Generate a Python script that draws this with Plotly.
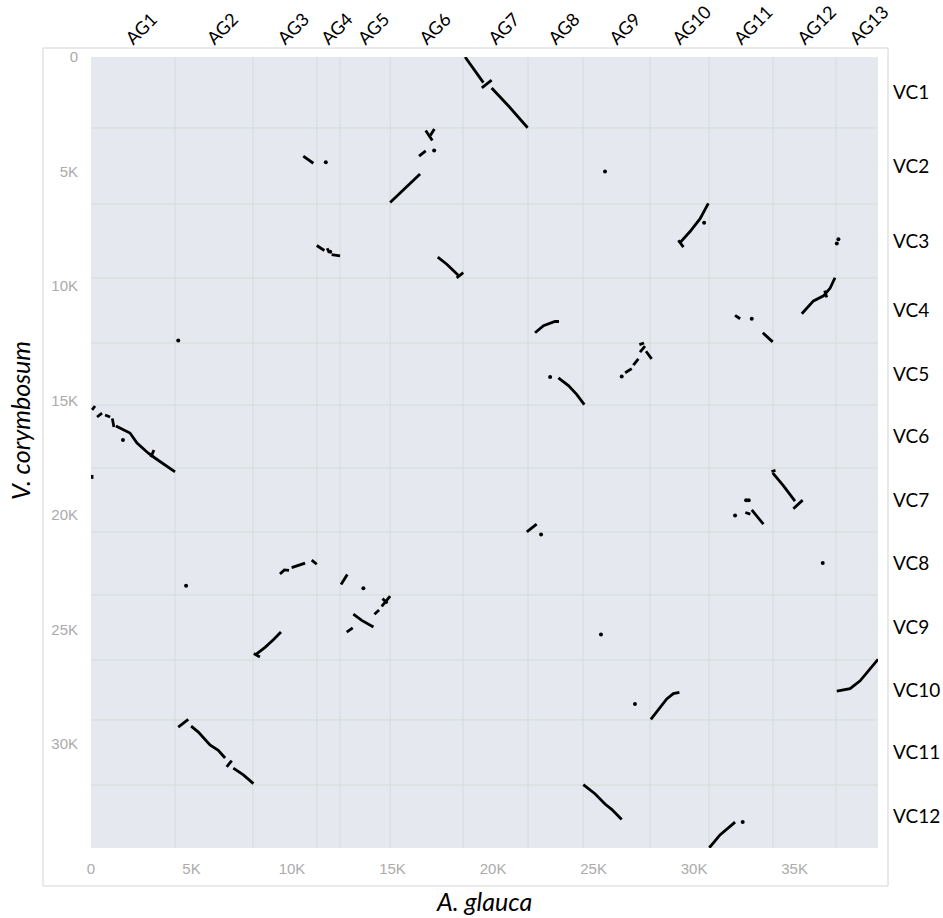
import plotly.graph_objects as go

# Chromosome names and lengths (thousands of genes along each genome)
ag_names = [f"AG{i}" for i in range(1, 14)]
ag_lengths = [4.18, 3.88, 3.18, 1.15, 2.49, 3.63, 3.23, 2.74, 3.33, 2.94, 3.18, 3.13, 2.09]

vc_names = [f"VC{i}" for i in range(1, 13)]
vc_lengths = [3.10, 3.32, 3.23, 2.84, 2.71, 2.75, 2.79, 2.75, 2.84, 2.62, 2.84, 2.75]

# Syntenic blocks, grouped by V. corymbosum chromosome: each block is a polyline of (A. glauca, V. corymbosum) positions
vc1_blocks = [
    [(18.61, 0.00), (19.52, 1.12)],
    [(19.44, 1.35), (19.93, 1.01)],
    [(19.93, 1.35), (20.76, 2.13), (21.72, 3.09)],
]
vc2_blocks = [
    [(10.56, 4.33), (11.06, 4.64)],
    [(16.65, 3.21), (16.98, 3.65)],
    [(16.88, 3.43), (17.08, 3.14)],
    [(16.32, 4.33), (16.65, 4.10)],
    [(14.88, 6.35), (15.62, 5.72), (16.37, 5.11)],
]
vc3_blocks = [
    [(11.23, 8.23), (11.61, 8.45)],
    [(11.75, 8.35), (11.85, 8.55)],
    [(11.97, 8.63), (12.39, 8.68)],
    [(17.25, 8.74), (17.70, 9.05), (18.27, 9.53)],
    [(18.19, 9.64), (18.52, 9.42)],
    [(29.27, 8.14), (29.80, 7.62), (30.30, 7.06), (30.71, 6.39)],
    [(29.22, 8.00), (29.47, 8.30)],
]
vc4_blocks = [
    [(22.09, 12.04), (22.51, 11.73), (23.08, 11.55), (23.28, 11.55)],
    [(32.04, 11.28), (32.29, 11.43)],
    [(33.42, 12.04), (33.91, 12.44)],
    [(35.36, 11.21), (35.94, 10.65), (36.44, 10.43), (36.77, 10.09), (37.01, 9.64)],
    [(36.50, 10.20), (36.60, 10.50)],
]
vc5_blocks = [
    [(23.25, 14.01), (23.75, 14.35), (24.16, 14.73), (24.54, 15.18)],
    [(26.57, 13.79), (26.90, 13.61)],
    [(26.98, 13.45), (27.23, 13.18)],
    [(27.28, 12.56), (27.51, 12.49)],
    [(27.31, 12.89), (27.56, 12.62)],
    [(27.61, 12.85), (27.89, 13.18)],
]
vc6_blocks = [
    [(0.05, 15.41), (0.20, 15.24)],
    [(0.30, 15.72), (0.55, 15.55)],
    [(0.70, 15.63), (0.95, 15.72)],
    [(1.06, 15.78), (1.14, 16.16)],
    [(1.24, 16.11), (1.94, 16.42), (2.29, 16.86), (2.84, 17.29), (3.18, 17.51), (4.18, 18.12)],
    [(2.98, 17.47), (3.13, 17.16)],
]
vc7_blocks = [
    [(0.05, 18.25), (0.05, 18.42)],
    [(21.68, 20.74), (22.17, 20.40)],
    [(33.85, 18.10), (34.05, 18.05)],
    [(33.91, 18.16), (34.44, 18.72), (35.02, 19.39)],
    [(34.94, 19.73), (35.40, 19.35)],
    [(32.55, 19.89), (32.80, 19.96)],
    [(32.87, 19.78), (33.45, 20.40)],
]
vc8_blocks = [
    [(9.40, 22.58), (9.62, 22.40), (9.85, 22.42)],
    [(9.98, 22.30), (10.30, 22.20), (10.65, 22.10)],
    [(10.98, 21.97), (11.23, 22.15)],
    [(12.44, 23.03), (12.75, 22.60)],
]
vc9_blocks = [
    [(12.72, 25.11), (13.02, 24.93)],
    [(13.05, 24.33), (13.47, 24.60), (14.05, 24.89)],
    [(14.10, 24.33), (14.33, 24.15)],
    [(14.46, 23.99), (14.88, 23.54)],
    [(14.50, 23.65), (14.75, 23.85)],
    [(8.16, 26.12), (8.66, 25.78), (9.07, 25.45), (9.45, 25.11)],
    [(8.10, 26.05), (8.40, 26.20)],
]
vc10_blocks = [
    [(37.10, 27.69), (37.76, 27.58), (38.26, 27.24), (38.67, 26.79), (39.15, 26.30)],
    [(27.85, 28.92), (28.23, 28.48), (28.64, 28.03), (28.97, 27.80), (29.27, 27.74)],
]
vc11_blocks = [
    [(4.34, 29.26), (4.84, 28.92)],
    [(4.98, 29.22), (5.34, 29.48), (5.92, 30.04), (6.33, 30.27), (6.67, 30.61)],
    [(6.75, 31.00), (7.00, 30.72)],
    [(7.08, 31.05), (7.58, 31.35), (8.08, 31.73)],
]
vc12_blocks = [
    [(24.49, 31.77), (25.07, 32.17), (25.57, 32.62), (25.90, 32.85), (26.40, 33.30)],
    [(30.76, 34.53), (31.29, 33.97), (32.04, 33.41)],
]

# Isolated single-gene hits
dots_x = [11.68, 17.07, 25.57, 11.90, 30.50, 37.10, 37.18, 4.34, 32.87, 22.84, 26.40, 1.59,
          22.39, 32.04, 32.59, 32.72, 4.73, 13.55, 36.40, 25.37, 27.06, 32.42]
dots_y = [4.60, 4.08, 5.00, 8.50, 7.24, 8.14, 7.96, 12.38, 11.43, 13.97, 13.95, 16.72,
          20.85, 20.02, 19.35, 19.35, 23.09, 23.20, 22.10, 25.22, 28.25, 33.41]

tick_vals = [0, 5, 10, 15, 20, 25, 30, 35]
tick_text = ["0", "5K", "10K", "15K", "20K", "25K", "30K", "35K"]

# ---- derived geometry ----
def cumulative(lengths):
    out = [0.0]
    for v in lengths:
        out.append(out[-1] + v)
    return out

ag_bounds = cumulative(ag_lengths)
vc_bounds = cumulative(vc_lengths)
ag_total, vc_total = ag_bounds[-1], vc_bounds[-1]
ag_centers = [(a + b) / 2 for a, b in zip(ag_bounds[:-1], ag_bounds[1:])]
vc_centers = [(a + b) / 2 for a, b in zip(vc_bounds[:-1], vc_bounds[1:])]

all_blocks = (vc1_blocks + vc2_blocks + vc3_blocks + vc4_blocks + vc5_blocks + vc6_blocks +
              vc7_blocks + vc8_blocks + vc9_blocks + vc10_blocks + vc11_blocks + vc12_blocks)
line_x, line_y = [], []
for block in all_blocks:
    for x, y in block:
        line_x.append(x)
        line_y.append(y)
    line_x.append(None)
    line_y.append(None)

W, H = 943, 918
ML, MR, MT, MB = 91, 65, 57, 70
PW, PH = W - ML - MR, H - MT - MB

def px_to_paper_x(px):
    return (px - ML) / PW

def px_to_paper_y(py):
    return (H - MB - py) / PH

GRID = "#D3DCD6"
BG = "#E6E8F0"

fig = go.Figure()
fig.add_trace(go.Scatter(x=line_x, y=line_y, mode="lines",
                         line=dict(color="black", width=2.8), hoverinfo="skip", showlegend=False))
fig.add_trace(go.Scatter(x=dots_x, y=dots_y, mode="markers",
                         marker=dict(color="black", size=4), hoverinfo="skip", showlegend=False))
# carrier trace for the chromosome-label axes
fig.add_trace(go.Scatter(x=[None], y=[None], xaxis="x2", yaxis="y2", showlegend=False))

shapes = []
for b in ag_bounds[1:-1]:
    shapes.append(dict(type="line", xref="x", yref="paper", x0=b, x1=b, y0=0, y1=1,
                       line=dict(color=GRID, width=1), layer="below"))
for b in vc_bounds[1:-1]:
    shapes.append(dict(type="line", xref="paper", yref="y", x0=0, x1=1, y0=b, y1=b,
                       line=dict(color=GRID, width=1), layer="below"))
shapes.append(dict(type="rect", xref="paper", yref="paper",
                   x0=px_to_paper_x(43), x1=px_to_paper_x(888),
                   y0=px_to_paper_y(886), y1=px_to_paper_y(48),
                   line=dict(color="#D4D4D4", width=1), fillcolor="rgba(0,0,0,0)", layer="below"))

tick_font = dict(family="Liberation Sans, Arial, sans-serif", size=15, color="#ABABAB")
top_font = dict(family="Lato, sans-serif", size=18, color="black")
right_font = dict(family="Lato, sans-serif", size=19, color="black")
title_font = dict(family="Lato, sans-serif", size=25, color="black")

common = dict(showgrid=False, zeroline=False, showline=False, ticks="", automargin=False)

fig.update_layout(
    width=W, height=H,
    margin=dict(l=ML, r=MR, t=MT, b=MB, autoexpand=False),
    paper_bgcolor="white", plot_bgcolor=BG,
    xaxis=dict(range=[0, ag_total], tickvals=tick_vals, ticktext=tick_text,
               tickfont=tick_font, ticklabelstandoff=10, **common),
    yaxis=dict(range=[vc_total, 0], tickvals=tick_vals[:-1], ticktext=tick_text[:-1],
               tickfont=tick_font, ticklabelstandoff=12, **common),
    xaxis2=dict(overlaying="x", side="top", range=[0, ag_total], tickvals=ag_centers,
                ticktext=ag_names, tickangle=-45, tickfont=top_font, ticklabelstandoff=4,
                ticklabelshift=-6, **common),
    yaxis2=dict(overlaying="y", side="right", range=[vc_total, 0], tickvals=vc_centers,
                ticktext=vc_names, tickfont=right_font, ticklabelstandoff=14, **common),
    shapes=shapes,
    annotations=[
        dict(text="<i>A. glauca</i>", xref="paper", yref="paper",
             x=px_to_paper_x(484), y=px_to_paper_y(901), xanchor="center", yanchor="middle",
             showarrow=False, font=title_font),
        dict(text="<i>V. corymbosum</i>", xref="paper", yref="paper",
             x=px_to_paper_x(20), y=px_to_paper_y(421), xanchor="center", yanchor="middle",
             showarrow=False, textangle=-90, font=title_font),
    ],
)

fig.write_html("out.html")
